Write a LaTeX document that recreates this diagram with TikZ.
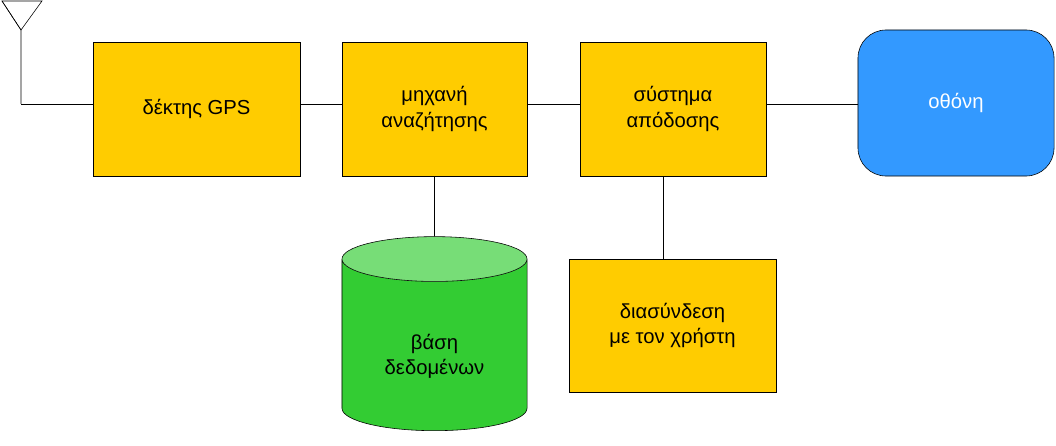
\documentclass[tikz,border=0pt]{standalone}
\usepackage{fontspec}
\setmainfont{Liberation Sans}
\usetikzlibrary{shapes.geometric}
\definecolor{boxyellow}{HTML}{FFCC00}
\definecolor{screenblue}{HTML}{3399FF}
\definecolor{dbgreen}{HTML}{33CC33}
\definecolor{dbtop}{HTML}{77DD77}

\begin{document}
\begin{tikzpicture}[x=0.025cm,y=-0.025cm,font=\Large,
    % styles
    block/.style={draw,fill=boxyellow,inner sep=0pt,align=center},
    screen/.style={draw,fill=screenblue,rounded corners=0.7cm,inner sep=0pt,
      text=white,minimum width=4.9cm,minimum height=3.65cm},
    database/.style={draw,cylinder,shape border rotate=90,aspect=0.45,
      cylinder uses custom fill,cylinder body fill=dbgreen,cylinder end fill=dbtop,
      inner sep=0pt,minimum width=4.625cm,minimum height=4.85cm,align=center},
    link/.style={thin}]

  \useasboundingbox (0,0) rectangle (1056,446);

  % antenna
  \coordinate (tipL) at (2,1);
  \coordinate (tipR) at (42,1);
  \coordinate (foot) at (21,30);
  \coordinate (bend) at (21,104);
  \draw (tipL) -- (tipR) -- (foot) -- cycle;
  \draw (tipL) -- (foot) -- (bend);

  % blocks
  \node[block,minimum width=5.175cm,minimum height=3.35cm] (gps) at (196.5,109) {δέκτης GPS};
  \node[block,minimum width=4.625cm,minimum height=3.35cm] (search) at (434.5,109) {μηχανή\\αναζήτησης};
  \node[block,minimum width=4.65cm,minimum height=3.35cm] (render) at (673,109) {σύστημα\\απόδοσης};
  \node[screen] (disp) at (956,103) {οθόνη};
  \node[database] (db) at (434.5,345) {\\[0.3cm]βάση\\δεδομένων};
  \node[block,minimum width=5.175cm,minimum height=3.325cm] (user) at (672.5,325.5) {διασύνδεση\\με τον χρήστη};

  % links
  \coordinate (drop) at (663,176);
  \draw[link] (bend) -- (gps.west |- bend);
  \draw[link] (gps.east |- bend) -- (search.west |- bend);
  \draw[link] (search.east |- bend) -- (render.west |- bend);
  \draw[link] (render.east |- bend) -- (disp.west |- bend);
  \draw[link] (search.south) -- (db.north);
  \draw[link] (drop) -- (drop |- user.north);
\end{tikzpicture}
\end{document}
